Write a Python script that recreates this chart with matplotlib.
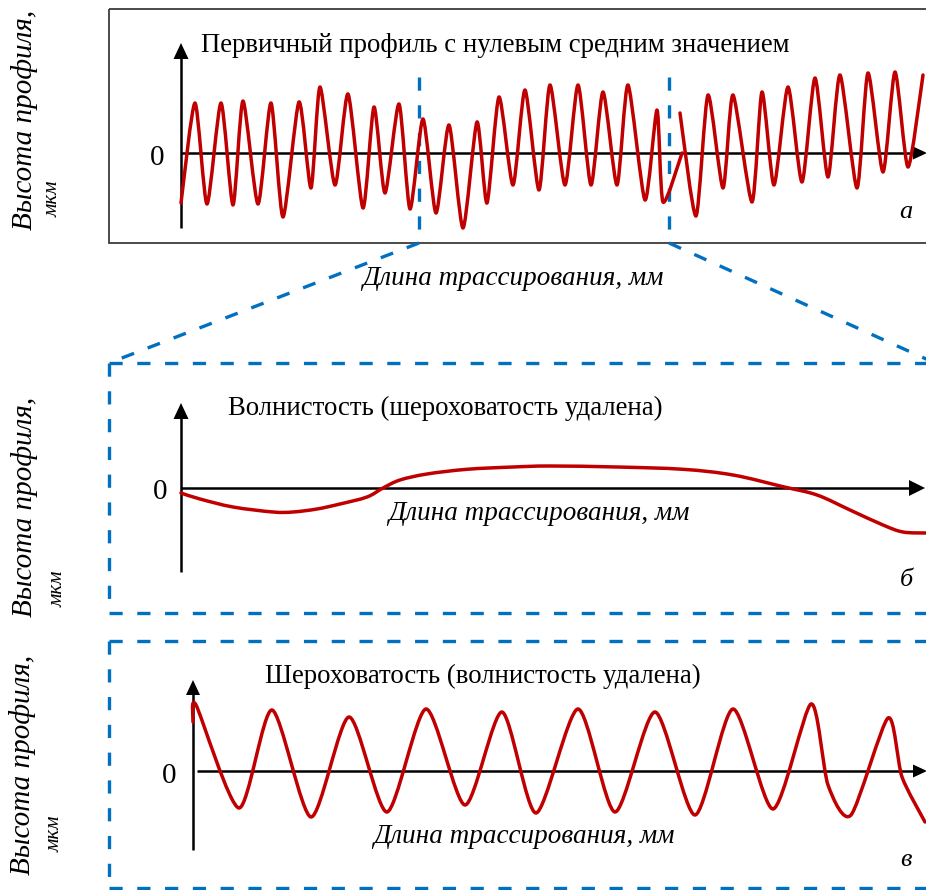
import numpy as np
import matplotlib
matplotlib.use("Agg")
import matplotlib.pyplot as plt
from matplotlib.path import Path
from matplotlib.patches import PathPatch, Polygon, Rectangle

plt.rcParams['font.family'] = ['Liberation Serif', 'DejaVu Serif']
plt.rcParams['lines.scale_dashes'] = False

nan = np.nan
# ---------------- data ----------------
# (a) primary profile: tracing length (arb. units) and height (arb. units); NaN = break
primary_x = [0, 14, 26, 40, 52, 62, 77, 90, 102, 118, 130, 139, 154, 167, 182, 193, 204,
             218, 229, 242, 255, 268, 282, 296, 306, 318, 332, 344, 358, 369, 384, 397, 410,
             422, 436, 447, 464, 476, 482, 501, nan, 499, 515, 527, 542, 552, 571, 581, 593,
             607, 621, 634, 647, 659, 676, 687, 702, 714, 727, 742]
primary_y = [-50, 50, -51, 50, -52, 52, -51, 50, -64, 51, -35, 66, -32, 59, -55, 46, -40,
             49, -56, 34, -60, 28, -75, 31, -50, 56, -32, 63, -37, 68, -32, 68, -32,
             61, -32, 68, -47, 43, -49, 0, nan, 40, -63, 58, -35, 58, -49, 61, -32,
             66, -29, 75, -24, 78, -35, 80, -19, 81, -14, 78]
# (b) waviness
wav_x = [0, 19, 52, 92, 112, 136, 159, 186, 202, 219, 246, 286, 332, 369, 436, 502, 552,
         602, 636, 669, 702, 722, 745]
wav_y = [-5, -11, -19, -24, -24, -21, -16, -9, 0, 8, 14, 18.7, 21, 22, 21, 18.7, 13,
         1.3, -7, -22, -37, -44, -45]
# (c) roughness
rough_x = [0, 3, 46, 79, 118, 156, 194, 233, 272, 309, 343, 385, 422, 462, 502, 540, 580,
           618, 635, 658, 695, 709, 732]
rough_y = [49, 66, -37, 61, -46, 54, -41, 62, -34, 59, -42, 62, -41, 59, -44, 62, -38,
           67, -14, -44, 53, -6, -51]

titles = ["Первичный профиль с нулевым средним значением",
          "Волнистость (шероховатость удалена)",
          "Шероховатость (волнистость удалена)"]
xlabel = "Длина трассирования, мм"
ylabel1 = "Высота профиля,"
ylabel2 = "мкм"
letters = ["а", "б", "в"]

RED = "#C00000"
BLUE = "#0070C0"
W, H = 926, 890

fig = plt.figure(figsize=(W / 100, H / 100), dpi=100)
deco = fig.add_axes([0, 0, 1, 1])
deco.set_xlim(0, W)
deco.set_ylim(H, 0)
deco.axis('off')


def smooth_path(xs, ys, t=0.7):
    pts = np.column_stack([xs, ys]).astype(float)
    n = len(pts)
    verts = [pts[0]]
    codes = [Path.MOVETO]
    for i in range(n - 1):
        p0 = pts[max(i - 1, 0)]
        p1 = pts[i]
        p2 = pts[i + 1]
        p3 = pts[min(i + 2, n - 1)]
        c1 = p1 + (p2 - p0) * t / 6
        c2 = p2 - (p3 - p1) * t / 6
        verts += [c1, c2, p2]
        codes += [Path.CURVE4] * 3
    return Path(verts, codes)


def panel_axes(x0, y0):
    ax = fig.add_axes([0, 0, 1, 1])
    ax.set_xlim(-x0, W - x0)
    ax.set_ylim(y0 - H, y0)
    ax.axis('off')
    ax.patch.set_alpha(0)
    return ax


def draw_curve(ax, xs, ys, t=0.7):
    xs = np.asarray(xs, float)
    ys = np.asarray(ys, float)
    breaks = np.where(np.isnan(xs))[0]
    starts = np.concatenate([[0], breaks + 1])
    ends = np.concatenate([breaks, [len(xs)]])
    for s, e in zip(starts, ends):
        p = smooth_path(xs[s:e], ys[s:e], t)
        ax.add_patch(PathPatch(p, facecolor='none', edgecolor=RED, lw=2.5,
                               capstyle='round', joinstyle='round', zorder=3))


def axis_arrows(xa, ybot, ytip, hl_y, hw_y, yz, xstart, xtip, hl_x, hw_x):
    deco.plot([xa, xa], [ybot, ytip + hl_y - 1], color='black', lw=1.8, zorder=2,
              solid_capstyle='butt')
    deco.add_patch(Polygon([(xa - hw_y / 2, ytip + hl_y), (xa, ytip), (xa + hw_y / 2, ytip + hl_y)],
                           closed=True, color='black', lw=0, zorder=2))
    deco.plot([xstart, xtip - hl_x + 1], [yz, yz], color='black', lw=1.8, zorder=2,
              solid_capstyle='butt')
    deco.add_patch(Polygon([(xtip - hl_x, yz - hw_x / 2), (xtip, yz), (xtip - hl_x, yz + hw_x / 2)],
                           closed=True, color='black', lw=0, zorder=2))


def dashed(xs, ys):
    deco.plot(xs, ys, color=BLUE, lw=2.4, linestyle=(0, (9.5, 10.5)), zorder=5,
              solid_capstyle='butt', dash_capstyle='butt')


# ---------------- panel a ----------------
deco.add_patch(Rectangle((109, 9), 840, 234, fill=False, edgecolor='#3c3c3c', lw=1.3, zorder=1))
axis_arrows(181, 228, 43, 16, 15, 153, 181, 927, 14, 13)
ax_a = panel_axes(181, 153)
draw_curve(ax_a, primary_x, primary_y, 0.7)

# ---------------- panel b ----------------
axis_arrows(181, 572, 403, 16, 15, 488, 181, 925, 16, 16)
ax_b = panel_axes(181, 488)
draw_curve(ax_b, wav_x, wav_y, 1.0)

# ---------------- panel c ----------------
axis_arrows(193, 850, 680, 15, 14, 771, 197, 927, 14, 13)
ax_c = panel_axes(193, 771)
draw_curve(ax_c, rough_x, rough_y, 0.75)

# ---------------- blue dashed zoom lines / frames ----------------
dashed([419, 419], [77, 243])
dashed([669, 669], [77, 243])
dashed([419, 109], [243, 363])
dashed([669, 935], [243, 363])
dashed([109, 940], [363, 363])
dashed([109, 109], [363, 613])
dashed([109, 940], [613, 613])
dashed([109, 940], [641, 641])
dashed([109, 109], [641, 889])
dashed([109, 940], [888, 888])

# ---------------- texts ----------------
TFS = 19.3
deco.text(201, 52, titles[0], fontsize=TFS, ha='left', va='baseline', zorder=6)
deco.text(228, 415, titles[1], fontsize=TFS, ha='left', va='baseline', zorder=6)
deco.text(265, 683, titles[2], fontsize=TFS, ha='left', va='baseline', zorder=6)

XFS = 19.5
for (x, y) in [(362, 285), (388, 520), (373, 843)]:
    deco.text(x, y, xlabel, fontsize=XFS, style='italic', ha='left', va='baseline', zorder=6)

for (x, y) in [(157.5, 158), (160, 492), (169.5, 776)]:
    deco.text(x, y, "0", fontsize=21, ha='center', va='center', zorder=6)

for (x, y), s in zip([(906, 212), (906, 580), (906, 860)], letters):
    deco.text(x, y, s, fontsize=19, style='italic', ha='center', va='center', zorder=6)

YFS = 21
for (x1, y1, x2, y2) in [(25, 230, 53, 217), (25, 617, 58, 607), (22.5, 875, 55, 852)]:
    deco.text(x1, y1, ylabel1, fontsize=YFS, style='italic', rotation=90,
              rotation_mode='anchor', ha='left', va='center', zorder=6)
    deco.text(x2, y2, ylabel2, fontsize=15, style='italic', rotation=90,
              rotation_mode='anchor', ha='left', va='center', zorder=6)

fig.savefig("out.png", dpi=100, facecolor='white')
